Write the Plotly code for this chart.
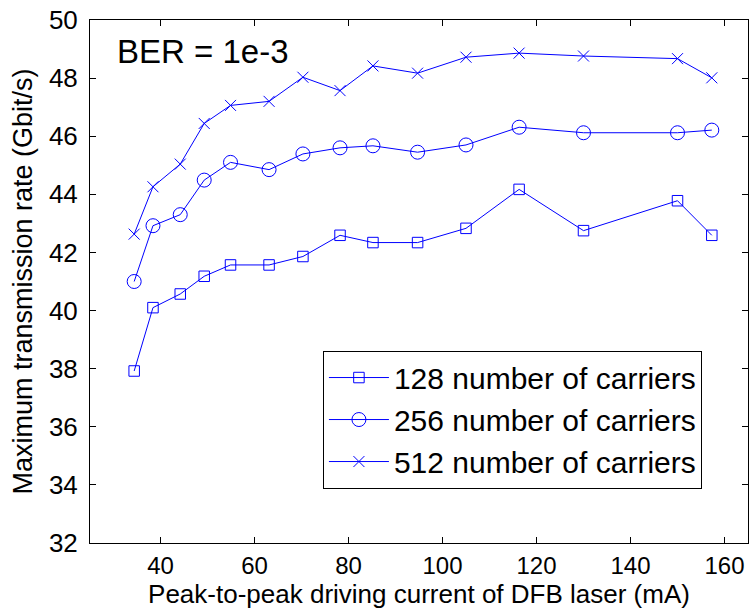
import plotly.graph_objects as go

current_ma = [34.4, 38.4, 44.2, 49.3, 54.9, 63.1, 70.3, 78.2, 85.2, 94.7, 105.0, 116.3, 130.0, 150.0, 157.3]
rate_128 = [37.92, 40.10, 40.57, 41.18, 41.57, 41.57, 41.86, 42.59, 42.34, 42.34, 42.83, 44.17, 42.75, 43.78, 42.59]
rate_256 = [41.00, 42.92, 43.30, 44.49, 45.10, 44.85, 45.39, 45.60, 45.67, 45.45, 45.70, 46.31, 46.12, 46.12, 46.21]
rate_512 = [42.63, 44.26, 45.04, 46.44, 47.06, 47.20, 48.03, 47.57, 48.42, 48.17, 48.72, 48.86, 48.76, 48.67, 48.01]
series_names = ["128 number of carriers", "256 number of carriers", "512 number of carriers"]
x_ticks = [40, 60, 80, 100, 120, 140, 160]
y_ticks = [32, 34, 36, 38, 40, 42, 44, 46, 48, 50]

FONT = "Arial, Liberation Sans, Helvetica, sans-serif"
BLUE = "#0000ff"

fig = go.Figure()
for ys, name, sym, size in [
    (rate_128, series_names[0], "square-open", 10.5),
    (rate_256, series_names[1], "circle-open", 14),
    (rate_512, series_names[2], "x-thin-open", 11),
]:
    fig.add_trace(go.Scatter(
        x=current_ma, y=ys, name=name, mode="lines+markers",
        line=dict(color=BLUE, width=1),
        marker=dict(symbol=sym, size=size, color=BLUE, line=dict(color=BLUE, width=1)),
    ))

axis_common = dict(
    showline=True, linecolor="black", linewidth=1, mirror="ticks",
    ticks="inside", ticklen=6, tickcolor="black", tickwidth=1,
    showgrid=False, zeroline=False,
)

fig.update_layout(
    width=752, height=610,
    margin=dict(l=90, r=4, t=20, b=67),
    paper_bgcolor="white", plot_bgcolor="white",
    font=dict(family=FONT, color="black"),
    xaxis=dict(range=[25, 165], tickvals=x_ticks, ticklabelstandoff=1,
               tickfont=dict(family=FONT, size=24, color="black"),
               title=dict(text="Peak-to-peak driving current of DFB laser (mA)",
                          font=dict(family=FONT, size=26, color="black"), standoff=0),
               **axis_common),
    yaxis=dict(range=[32, 50], tickvals=y_ticks, ticklabelstandoff=6,
               tickfont=dict(family=FONT, size=26, color="black"),
               title=dict(text="Maximum transmission rate (Gbit/s)",
                          font=dict(family=FONT, size=27, color="black"), standoff=8),
               **axis_common),
    legend=dict(x=0.354, y=0.368, xanchor="left", yanchor="top",
                bgcolor="white", bordercolor="black", borderwidth=1,
                font=dict(family=FONT, size=30, color="black"), itemwidth=60,
                tracegroupgap=0),
    showlegend=True,
    annotations=[dict(text="BER = 1e-3", xref="paper", yref="paper", x=0.038, y=0.939,
                      xanchor="left", yanchor="middle", showarrow=False,
                      font=dict(family=FONT, size=33, color="black"))],
)

fig.write_html("out.html")
